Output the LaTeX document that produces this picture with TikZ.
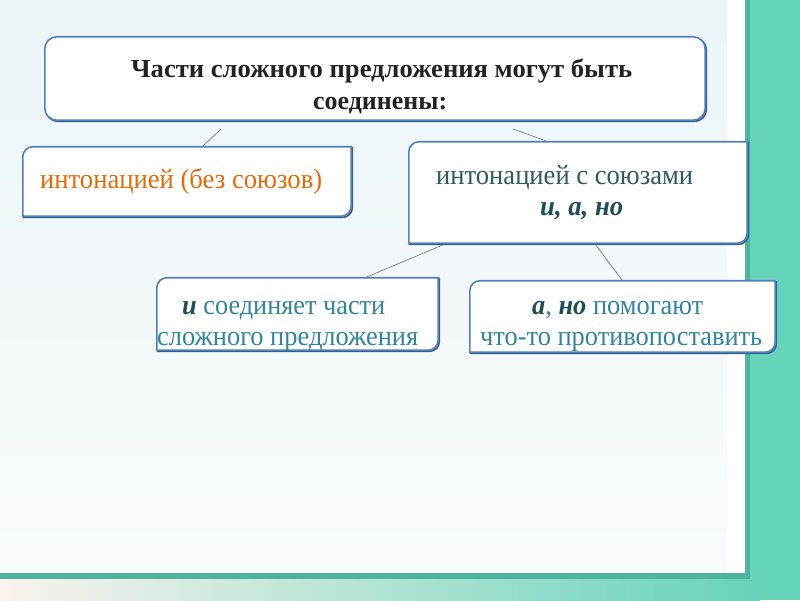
\documentclass[tikz,border=0pt]{standalone}
\usepackage{fontspec}
\setmainfont{Liberation Serif}
\usepackage{graphicx}
\definecolor{tealbg}{HTML}{66D3BB}
\definecolor{tealdark}{HTML}{4DB39A}
\definecolor{paneltop}{HTML}{EDF5F9}
\definecolor{panelbot}{HTML}{F8FCFD}
\definecolor{cream}{HTML}{FBF3EE}
\definecolor{boxblue}{HTML}{4F81BD}
\definecolor{shadowc}{HTML}{385D8A}
\definecolor{orangetxt}{HTML}{E36C0A}
\definecolor{slatetxt}{HTML}{2E5A66}
\definecolor{tealtxt}{HTML}{31859C}
\definecolor{darktxt}{HTML}{1F4E5A}
\definecolor{titletxt}{HTML}{222222}
\definecolor{linec}{HTML}{6E6E6E}
\newcommand\fw[2]{\resizebox{#1pt}{\height}{#2}}
\newcommand\dbox[1]{%
  \draw[shadowc,line width=1.6pt] ([shift={(1.2,-1.2)}]#1.south west) -- ([shift={(1.2,-11.2)}]#1.north west) arc[start angle=180,end angle=90,radius=10] -- ([shift={(1.2,-1.2)}]#1.north east) -- ([shift={(1.2,8.8)}]#1.south east) arc[start angle=0,end angle=-90,radius=10] -- cycle;
  \draw[boxline] (#1.south west) -- ([yshift=-10pt]#1.north west) arc[start angle=180,end angle=90,radius=10] -- (#1.north east) -- ([yshift=10pt]#1.south east) arc[start angle=0,end angle=-90,radius=10] -- cycle;
}
\begin{document}
\begin{tikzpicture}[x=1pt,y=1pt,
  boxline/.style={draw=boxblue,line width=1.6pt,fill=white},
  boxnode/.style={inner sep=0pt,draw=none},
  txt/.style={inner sep=0pt,anchor=base west},
  conn/.style={draw=linec,line width=0.6pt}]
\useasboundingbox (0,0) rectangle (800,600);
% background
\fill[tealbg] (0,0) rectangle (800,600);
\shade[left color=cream,right color=tealbg] (0,0) rectangle (760,21);
\fill[tealdark] (0,21) rectangle (750,28);
\fill[tealdark] (745,21) rectangle (750,600);
\shade[top color=paneltop,bottom color=panelbot] (0,28) rectangle (745,600);
\fill[white!70!panelbot] (727,28) rectangle (745,600);
% connectors
\coordinate (c1a) at (221,471);
\coordinate (c1b) at (202,453);
\coordinate (c2a) at (513,471);
\coordinate (c2b) at (549,458);
\coordinate (c3a) at (445,356);
\coordinate (c3b) at (362,321);
\coordinate (c4a) at (595,356);
\coordinate (c4b) at (622,320);
\draw[conn] (c1a) -- (c1b);
\draw[conn] (c2a) -- (c2b);
\draw[conn] (c3a) -- (c3b);
\draw[conn] (c4a) -- (c4b);
% top box
\node[boxnode,minimum width=660pt,minimum height=83pt] (top) at (375,521.5) {};
\draw[shadowc,line width=1.6pt,rounded corners=12pt] ([shift={(1.2,-1.2)}]top.south west) rectangle ([shift={(1.2,-1.2)}]top.north east);
\draw[boxline,rounded corners=12pt] (top.south west) rectangle (top.north east);
% other boxes
\node[boxnode,minimum width=328pt,minimum height=69pt] (b2) at (187,418.5) {};
\node[boxnode,minimum width=338pt,minimum height=101pt] (b3) at (578,407.5) {};
\node[boxnode,minimum width=281pt,minimum height=72pt] (b4) at (297.5,286) {};
\node[boxnode,minimum width=305pt,minimum height=71pt] (b5) at (622.5,283.5) {};
\dbox{b2}
\dbox{b3}
\dbox{b4}
\dbox{b5}
% texts
\node[txt,text=titletxt] (t1) at (131,522) {\fw{501}{\fontsize{26}{26}\selectfont\bfseries Части сложного предложения могут быть}};
\node[txt,text=titletxt] (t2) at (313,490) {\fw{134}{\fontsize{26}{26}\selectfont\bfseries соединены:}};
\node[txt,text=orangetxt] (t3) at (40,411) {\fw{282}{\fontsize{28}{28}\selectfont интонацией (без союзов)}};
\node[txt,text=slatetxt] (t4) at (436,415) {\fw{257}{\fontsize{28}{28}\selectfont интонацией с союзами}};
\node[txt,text=darktxt] (t5) at (540,384) {\fw{83}{\fontsize{28}{28}\selectfont\bfseries\itshape и, а, но}};
\node[txt,text=tealtxt] (t6) at (182,285) {\fw{203}{\fontsize{28}{28}\selectfont{\color{darktxt}\bfseries\itshape и} соединяет части}};
\node[txt,text=tealtxt] (t7) at (157,254) {\fw{261}{\fontsize{28}{28}\selectfont сложного предложения}};
\node[txt,text=tealtxt] (t8) at (532,285) {\fw{171}{\fontsize{28}{28}\selectfont{\color{darktxt}\bfseries\itshape а}, {\color{darktxt}\bfseries\itshape но} помогают}};
\node[txt,text=tealtxt] (t9) at (480,254) {\fw{282}{\fontsize{28}{28}\selectfont что-то противопоставить}};
\end{tikzpicture}
\end{document}
